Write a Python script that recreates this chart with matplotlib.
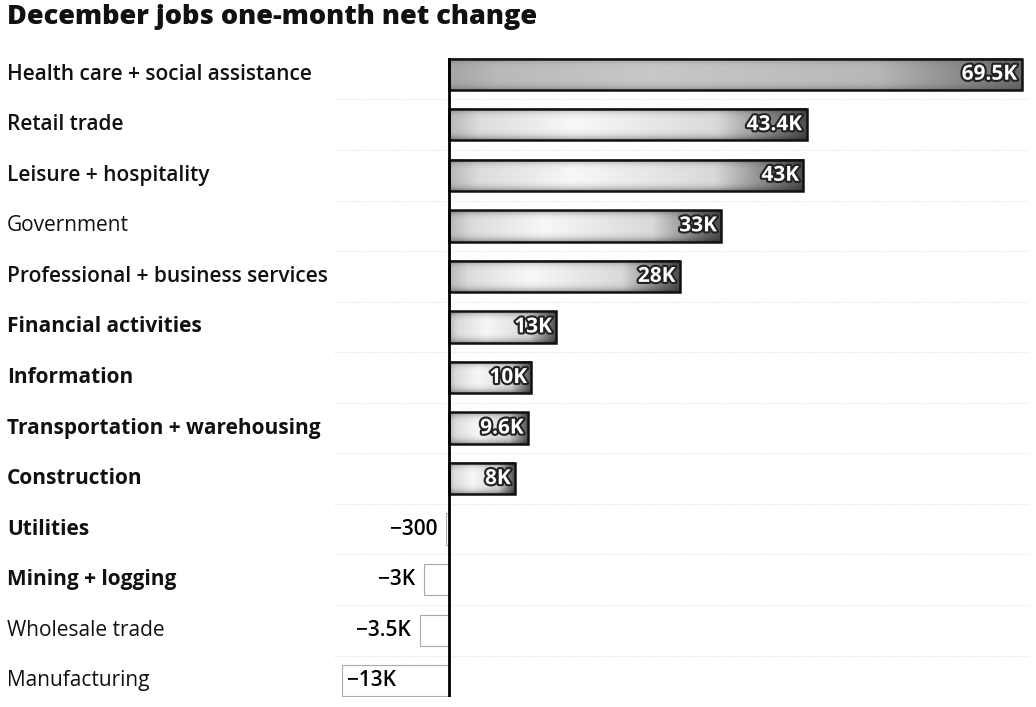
import numpy as np
import matplotlib.pyplot as plt
import matplotlib.patheffects as pe
from matplotlib.patches import Rectangle
from matplotlib.transforms import blended_transform_factory

plt.rcParams['font.family'] = ['Open Sans', 'DejaVu Sans']

categories = ['Health care + social assistance', 'Retail trade', 'Leisure + hospitality',
              'Government', 'Professional + business services', 'Financial activities',
              'Information', 'Transportation + warehousing', 'Construction', 'Utilities',
              'Mining + logging', 'Wholesale trade', 'Manufacturing']
values = [69.5, 43.4, 43.0, 33.0, 28.0, 13.0, 10.0, 9.6, 8.0, -0.3, -3.0, -3.5, -13.0]
value_labels = ['69.5K', '43.4K', '43K', '33K', '28K', '13K', '10K', '9.6K', '8K',
                '\u2212300', '\u22123K', '\u22123.5K', '\u221213K']

fig = plt.figure(figsize=(10.36, 7.07), dpi=100)
ax = fig.add_axes([0.322, 0.01414, 0.672, 0.9038])
ax.set_xlim(-14, 70.5)
ax.set_ylim(12.32, -0.32)
ax.axis('off')

h = 0.62
# horizontal shading: light at left, white in the middle, dark at the right end
xs = np.linspace(0, 1, 200)
shade = np.interp(xs, [0, 0.08, 0.35, 0.75, 1.0], [0.72, 0.86, 0.97, 0.85, 0.30])
ys = np.linspace(-1, 1, 30)
vert = 1 - 0.35 * np.abs(ys) ** 4
for i, v in enumerate(values):
    if v > 0:
        grad = np.outer(vert, shade)
        if i == 0:
            grad = 0.25 + grad * 0.55
        ax.imshow(grad, cmap='gray', vmin=0, vmax=1, aspect='auto',
                  extent=(0, v, i + h / 2, i - h / 2), interpolation='bilinear', zorder=2)
        ax.add_patch(Rectangle((0, i - h / 2), v, h, fill=False, edgecolor='#111111',
                               lw=1.8, zorder=3))
        t = ax.text(v - 0.5, i, value_labels[i], ha='right', va='center', color='white',
                    fontsize=15, fontweight='bold', zorder=4)
        t.set_path_effects([pe.withStroke(linewidth=3, foreground='#222222')])
    else:
        ax.add_patch(Rectangle((0, i - h / 2), v, h, facecolor='white', edgecolor='#aaaaaa',
                               lw=0.8, zorder=3))
        if v > -10:
            ax.text(v - 1.1, i, value_labels[i], ha='right', va='center', color='black',
                    fontsize=15, fontweight='semibold', zorder=4)
        else:
            ax.text(v + 0.6, i, value_labels[i], ha='left', va='center', color='black',
                    fontsize=15, fontweight='semibold', zorder=4)

# faint row separators
for i in range(len(values) - 1):
    ax.axhline(i + 0.5, color='#e6e6e6', lw=0.8, ls=(0, (1, 1)), zorder=1)

ax.axvline(0, color='black', lw=2, zorder=5)

weights = ['semibold', 'semibold', 'semibold', 'medium', 'semibold', 'bold', 'bold',
           'bold', 'bold', 'bold', 'bold', 'normal', 'normal']
tr = blended_transform_factory(fig.transFigure, ax.transData)
for i, name in enumerate(categories):
    ax.text(7 / 1036, i, name, transform=tr, ha='left', va='center', fontsize=15,
            fontweight=weights[i], color='#111111')

fig.text(7 / 1036, 1 - 17 / 707, 'December jobs one-month net change', ha='left',
         va='center', fontsize=19.5, fontweight='extra bold', color='#111111')

fig.savefig('out.png', dpi=100, facecolor='white')
